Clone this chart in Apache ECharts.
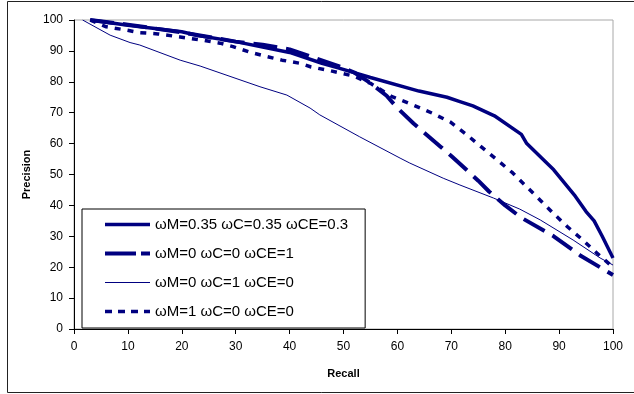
<!DOCTYPE html>
<html>
<head>
<meta charset="utf-8">
<script src="https://cdn.jsdelivr.net/npm/echarts@6/dist/echarts.min.js"></script>
<style>
  html, body { margin: 0; padding: 0; background: #fff; }
  #chart { width: 634px; height: 394px; }
</style>
</head>
<body>
<div id="chart"></div>
<script>
// recall / precision
const recallA = [3, 10, 20, 23, 30, 40, 46, 49, 55, 64, 69.2, 71.6, 74, 78, 83, 84, 89, 93, 95, 96.5, 98, 100]
const precisionA = [100, 98.3, 96.2, 95, 93, 89.5, 86, 84.5, 81.4, 77, 75, 73.6, 72.2, 69, 63, 60, 51.5, 43, 38, 35, 30, 23]

const recallB = [3, 10, 20, 30, 35, 40, 45, 50, 52, 55, 58, 60, 63, 68, 70, 75, 77, 80, 83, 89, 94, 100]
const precisionB = [100, 98.5, 96, 93, 92, 90.5, 87.5, 84.5, 83, 79.6, 75.5, 71.5, 66.5, 59, 56, 48, 44.5, 40, 36, 30, 23.7, 17.5]

const recallC = [1.6, 6.7, 10.4, 12.2, 19.7, 23.4, 34.5, 39.5, 43.8, 45.6, 53, 60.5, 62.3, 68.5, 71.6, 77.8, 82.7, 86.5, 92.6, 97.6, 100]
const precisionC = [100, 95.1, 92.7, 91.9, 87, 85.1, 78.4, 75.7, 71.5, 69.3, 62.2, 55.3, 53.7, 48.8, 46.6, 42.4, 38.8, 35.3, 28.8, 23, 20.7]

const recallD = [3, 6, 9.5, 12.2, 15.6, 19.7, 23.7, 27.1, 29.5, 33, 35, 38.6, 41.9, 44, 47.5, 51.8, 55, 59, 62.9, 66.4, 69.8, 72.9, 76.3, 79, 81.4, 84, 86.5, 88.9, 91.6, 94.2, 97, 100]
const precisionD = [100, 97.8, 96.8, 95.9, 95.5, 94.5, 93.5, 92.5, 91.4, 89.4, 88.5, 87, 86, 84.8, 83.6, 81.9, 79.5, 75.2, 72.5, 69.9, 67, 62.8, 57.9, 54, 50.5, 46, 41.7, 37.5, 33, 29.1, 24.6, 20]

const seriesNames = [
  'ωM=0.35 ωC=0.35 ωCE=0.3',
  'ωM=0 ωC=0 ωCE=1',
  'ωM=0 ωC=1 ωCE=0',
  'ωM=1 ωC=0 ωCE=0',
]

const navy = '#000080'
const font = '"Liberation Sans", Arial, sans-serif'

const pairs = (xs, ys) => xs.map((x, i) => [x, ys[i]])

const lines = [
  { data: pairs(recallA, precisionA), width: 3.5, type: 'solid', legendType: 'solid' },
  { data: pairs(recallB, precisionB), width: 4, type: [24, 9], legendType: [31, 5] },
  { data: pairs(recallC, precisionC), width: 1, type: 'solid', legendType: 'solid' },
  { data: pairs(recallD, precisionD), width: 3.5, type: [6, 7], legendType: [7, 6] },
]

const chart = echarts.init(document.getElementById('chart'))

chart.setOption({
  animation: false,
  backgroundColor: '#fff',
  textStyle: { fontFamily: font },
  grid: {
    left: 74,
    right: 21,
    top: 20,
    bottom: 65,
    show: true,
    borderColor: '#a8a8a8',
    borderWidth: 1,
  },
  graphic: [{
    type: 'rect',
    silent: true,
    z: -1,
    shape: { x: 7.5, y: 1.5, width: 640, height: 391 },
    style: { fill: 'none', stroke: '#222', lineWidth: 1 },
  }],
  xAxis: {
    type: 'value',
    min: 0,
    max: 100,
    interval: 10,
    name: 'Recall',
    nameLocation: 'middle',
    nameGap: 39,
    nameTextStyle: { fontSize: 11, fontWeight: 'bold', color: '#000' },
    axisLine: { lineStyle: { color: '#000', width: 1 } },
    axisTick: { show: true, length: 5, lineStyle: { color: '#000' } },
    axisLabel: { color: '#000', fontSize: 12, margin: 12 },
    splitLine: { show: false },
  },
  yAxis: {
    type: 'value',
    min: 0,
    max: 100,
    interval: 10,
    name: 'Precision',
    nameLocation: 'middle',
    nameGap: 36,
    nameTextStyle: { fontSize: 11, fontWeight: 'bold', color: '#000' },
    axisLine: { show: true, lineStyle: { color: '#000', width: 1 } },
    axisTick: { show: true, length: 5, lineStyle: { color: '#000' } },
    axisLabel: { color: '#000', fontSize: 12, margin: 11 },
    splitLine: { show: false },
  },
  legend: {
    orient: 'vertical',
    left: 82,
    top: 209,
    padding: [8, 17, 9, 21],
    itemWidth: 45,
    itemHeight: 14,
    itemGap: 14,
    backgroundColor: '#fff',
    borderColor: '#000',
    borderWidth: 1,
    textStyle: { fontSize: 15, color: '#000', fontFamily: font },
    data: seriesNames.map((name, i) => ({
      name,
      itemStyle: { opacity: 0 },
      lineStyle: { width: lines[i].width, type: lines[i].legendType, color: navy },
    })),
  },
  series: lines.map((l, i) => ({
    type: 'line',
    name: seriesNames[i],
    data: l.data,
    symbol: 'none',
    smooth: false,
    color: navy,
    lineStyle: { color: navy, width: l.width, type: l.type },
    z: 4 - i,
  })),
})
</script>
</body>
</html>
